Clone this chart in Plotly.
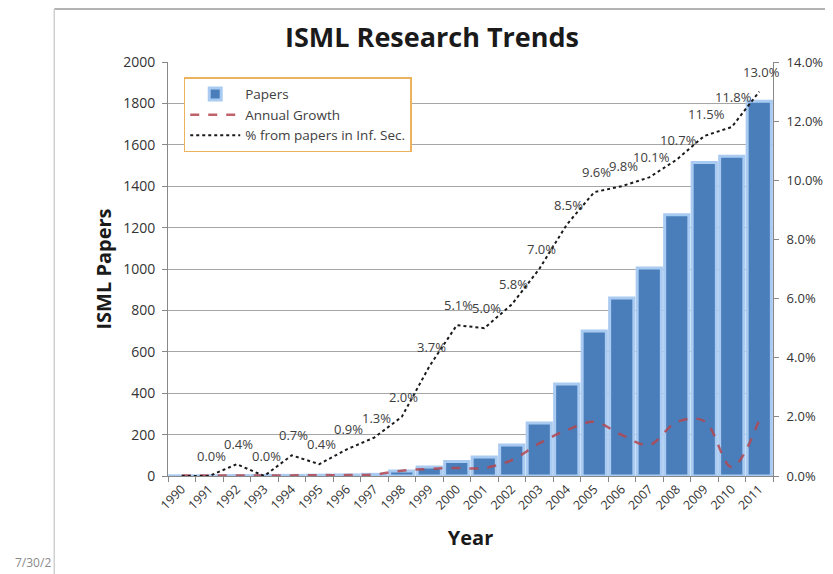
import plotly.graph_objects as go

years = list(range(1990, 2012))
papers = [1, 1, 2, 3, 3, 4, 5, 8, 24, 43, 70, 92, 150, 256, 444, 700, 860, 1005, 1262, 1515, 1545, 1810]
annual_growth = [0.02, 0.02, 0.02, 0.02, 0.02, 0.03, 0.03, 0.05, 0.18, 0.24, 0.27, 0.27, 0.54, 1.1, 1.55, 1.83, 1.39, 1.05, 1.83, 1.86, 0.3, 1.9]
pct_infsec = [0.0, 0.0, 0.4, 0.0, 0.7, 0.4, 0.9, 1.3, 2.0, 3.7, 5.1, 5.0, 5.8, 7.0, 8.5, 9.6, 9.8, 10.1, 10.7, 11.5, 11.8, 13.0]
pct_labels = ["", "0.0%", "0.4%", "0.0%", "0.7%", "0.4%", "0.9%", "1.3%", "2.0%", "3.7%", "5.1%", "5.0%",
              "5.8%", "7.0%", "8.5%", "9.6%", "9.8%", "10.1%", "10.7%", "11.5%", "11.8%", "13.0%"]

left_ticks = list(range(0, 2001, 200))
right_ticks = [0, 2, 4, 6, 8, 10, 12, 14]
right_tick_text = [f"{v:.1f}%" for v in right_ticks]

FONT = "Open Sans"
GRID = "#A6A6A6"

# label offsets (pixels) for the data labels, styling only
label_yshift = {2010: 30, 2009: 22}

fig = go.Figure()
fig.add_trace(go.Bar(
    x=years, y=papers, name="Papers",
    marker=dict(color="#4A7EBB", line=dict(color="#A9CBF2", width=3)),
    yaxis="y",
))
fig.add_trace(go.Scatter(
    x=years, y=annual_growth, name="Annual Growth", mode="lines",
    line=dict(color="rgba(180,70,80,0.85)", width=2.5, dash="dash", shape="spline", smoothing=1.0),
    yaxis="y2",
))
fig.add_trace(go.Scatter(
    x=years, y=pct_infsec, name="% from papers in Inf. Sec.", mode="lines",
    line=dict(color="#1a1a1a", width=2, dash="dot"),
    yaxis="y2",
))

for yr, v, lab in zip(years, pct_infsec, pct_labels):
    if lab:
        fig.add_annotation(x=yr, y=v, xref="x", yref="y2", text=lab, showarrow=False,
                           yshift=label_yshift.get(yr, 20), xshift=2,
                           font=dict(family=FONT, size=13, color="#404040"))

fig.update_layout(
    width=825, height=566,
    margin=dict(l=160, r=60, t=54, b=98),
    paper_bgcolor="white", plot_bgcolor="white",
    title=dict(text="<b>ISML Research Trends</b>", x=0.514, xanchor="center", y=0.947, yanchor="middle",
               font=dict(family=FONT, size=27, color="#1a1a1a")),
    bargap=0.12,
    showlegend=True,
    legend=dict(x=0.026, y=0.963, xanchor="left", yanchor="top",
                bgcolor="white", bordercolor="#EDB25E", borderwidth=1.5,
                font=dict(family=FONT, size=13.5, color="#404040"),
                itemwidth=50),
    xaxis=dict(range=[1989.5, 2011.5], tickmode="array", tickvals=years, ticktext=[str(y) for y in years],
               tickangle=-45, ticks="", automargin=False,
               minor=dict(ticks="outside", tickmode="linear", tick0=1989.5, dtick=1, ticklen=5,
                          tickcolor="#888888", showgrid=False),
               showline=True, linecolor="#888888", linewidth=1, showgrid=False, zeroline=False,
               tickfont=dict(family=FONT, size=12.5, color="#333333"),
               title=dict(text="<b>Year</b>", font=dict(family=FONT, size=20, color="#1a1a1a"), standoff=18)),
    yaxis=dict(range=[0, 2000], tickvals=left_ticks, ticks="outside", ticklen=5, tickcolor="#888888",
               showline=True, linecolor="#888888", showgrid=True, gridcolor=GRID, gridwidth=1,
               zeroline=False, automargin=False, ticklabelstandoff=4,
               tickfont=dict(family=FONT, size=14, color="#333333"),
               title=dict(text="<b>ISML Papers</b>", font=dict(family=FONT, size=20, color="#1a1a1a"), standoff=6)),
    yaxis2=dict(range=[0, 14], overlaying="y", side="right", tickvals=right_ticks, ticktext=right_tick_text,
                ticks="outside", ticklen=5, tickcolor="#888888", showline=True, linecolor="#888888",
                showgrid=False, zeroline=False, automargin=False, ticklabelstandoff=5,
                tickfont=dict(family=FONT, size=13, color="#333333")),
)

# slide frame pieces
fig.add_shape(type="line", xref="paper", yref="paper", x0=-0.188, x1=1.12, y0=1.128, y1=1.128,
              line=dict(color="#9a9a9a", width=1.5))
fig.add_shape(type="line", xref="paper", yref="paper", x0=-0.188, x1=-0.188, y0=1.128, y1=-0.3,
              line=dict(color="#d0d0d0", width=1.5))
fig.add_annotation(xref="paper", yref="paper", x=-0.19, y=-0.21, xanchor="right", yanchor="middle",
                   text="7/30/2", showarrow=False, font=dict(family=FONT, size=12, color="#8a8a8a"))

fig.write_html("out.html")
